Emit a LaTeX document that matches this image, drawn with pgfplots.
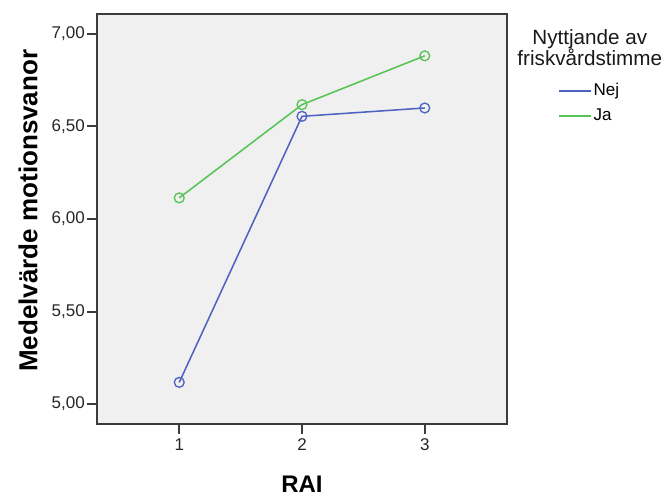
\documentclass[border=0pt]{standalone}
\usepackage{pgfplots}
\pgfplotsset{compat=1.18}
\usepackage{fontspec}
\setmainfont{Liberation Sans}
\definecolor{nejblue}{RGB}{78,99,193}
\definecolor{jagreen}{RGB}{86,196,86}
\definecolor{bgray}{RGB}{240,240,240}
\definecolor{frame}{RGB}{60,60,60}
\begin{document}
\begin{tikzpicture}
% picture frame, 1px = 0.75pt; plot box lower left at (0,0)
\useasboundingbox (-72.75pt,-55.5pt) rectangle (426.75pt,318pt);
\begin{axis}[
    at={(0,0)}, anchor=south west,
    scale only axis,
    width=307.5pt, height=307.5pt,
    xmin=0.33, xmax=3.67,
    ymin=4.892, ymax=7.108,
    xtick={1,2,3},
    ytick={5,5.5,6,6.5,7},
    tick align=outside,
    xtick pos=bottom, ytick pos=left,
    major tick length=7.5pt,
    axis line style={frame, line width=1.5pt},
    every tick/.style={frame, line width=1.5pt},
    axis background/.style={fill=bgray},
    tick label style={font=\fontsize{12.75}{15}\selectfont, text=black!85},
    /pgf/number format/assume math mode=true,
    yticklabel style={inner xsep=1.5pt,
        /pgf/number format/.cd, fixed, fixed zerofill, precision=2, use comma},
    xlabel={RAI},
    ylabel={Medelvärde motionsvanor},
    xlabel style={font=\bfseries\fontsize{18}{21}\selectfont,
        at={(axis description cs:0.5,-0.148)}, anchor=center},
    ylabel style={font=\bfseries\fontsize{19.5}{22}\selectfont,
        at={(axis description cs:-0.168,0.52)}, anchor=center},
    legend style={draw=none, fill=none, at={(1.124,0.8366)}, anchor=north west,
        font=\fontsize{12.75}{15}\selectfont, row sep=3.75pt,
        inner sep=0pt, nodes={inner sep=1.5pt, text height=9pt, text depth=3pt}},
    legend cell align=left,
    legend image code/.code={\draw[#1,mark=none] (0pt,0pt) -- (24pt,0pt);},
    clip=false,
]
\addplot[nejblue, line width=1.15pt, mark=o, mark size=3.7pt, mark options={line width=1pt}]
    coordinates {(1,5.117) (2,6.555) (3,6.600)};
\addlegendentry{Nej}
\addplot[jagreen, line width=1.15pt, mark=o, mark size=3.7pt, mark options={line width=1pt}]
    coordinates {(1,6.114) (2,6.618) (3,6.882)};
\addlegendentry{Ja}
\node[align=center, font=\fontsize{15.5}{16.25}\selectfont, text=black!90]
    at (rel axis cs:1.202,0.918) {Nyttjande av\\friskvårdstimme};
\end{axis}
\end{tikzpicture}
\end{document}
